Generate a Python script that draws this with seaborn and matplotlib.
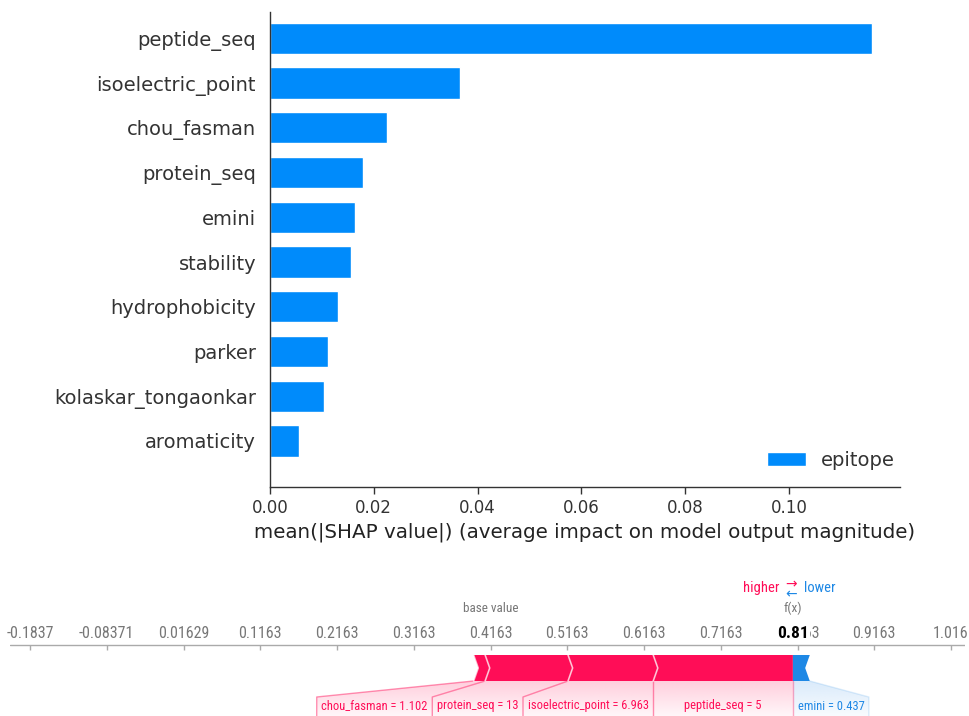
import numpy as np
import pandas as pd
import matplotlib
matplotlib.use("Agg")
import matplotlib.pyplot as plt
import seaborn as sns
from matplotlib.patches import Polygon
from matplotlib import font_manager

# --- top panel: mean |SHAP| per feature ---
features = ["peptide_seq", "isoelectric_point", "chou_fasman", "protein_seq", "emini",
            "stability", "hydrophobicity", "parker", "kolaskar_tongaonkar", "aromaticity"]
mean_abs_shap = [0.116, 0.0366, 0.0225, 0.0179, 0.0164, 0.0156, 0.0131, 0.0112, 0.0104, 0.0056]
class_name = "epitope"

# --- bottom panel: force plot of one prediction ---
base_value = 0.41629
force_features = ["chou_fasman", "protein_seq", "isoelectric_point", "peptide_seq", "emini"]
force_values = ["1.102", "13", "6.963", "5", "0.437"]
force_shap = [0.015, 0.108, 0.111, 0.182, -0.022]

POS = "#FF0D57"
POS_LIGHT = "#FFC3D5"
NEG = "#1E88E5"
NEG_LIGHT = "#D1E6FA"
BAR_BLUE = "#008bfb"

sns.set_theme(style="white")
plt.rcParams["font.family"] = ["DejaVu Sans"]


def is_regular(f):
    return f.weight in (400, "normal", "regular") and f.style == "normal"


def is_bold(f):
    return f.weight in (700, "bold") and f.style == "normal"


def pick_narrow_fonts():
    """Find a condensed sans face (regular + bold), like shap's force plot text."""
    wanted = ["Liberation Sans Narrow", "Roboto Condensed", "Open Sans Condensed",
              "Noto Sans Condensed", "DejaVu Sans Condensed"]
    fonts = font_manager.fontManager.ttflist
    reg = None
    for name in wanted:
        reg = next((f for f in fonts if f.name == name and is_regular(f)), None)
        if reg:
            break
    if reg is None:
        reg = next((f for f in fonts if f.stretch in ("condensed", "semi-condensed")
                    and is_regular(f)), None)
    if reg is None:
        return "Liberation Sans", "Liberation Sans", 0.85
    bold = next((f for f in fonts if f.name == reg.name and f.stretch == reg.stretch
                 and is_bold(f)), reg)
    return reg.fname, bold.fname, 1.0


narrow_reg, narrow_bold, nscale = pick_narrow_fonts()


def nfont(size, bold=False):
    src = narrow_bold if bold else narrow_reg
    if src.endswith((".ttf", ".otf", ".ttc")):
        fp = font_manager.FontProperties(fname=src)
    else:
        fp = font_manager.FontProperties(family=src, weight="bold" if bold else "normal")
    fp.set_size(size * nscale)
    return fp


fig = plt.figure(figsize=(9.69, 7.16), dpi=100)

# ---------------- top bar chart ----------------
ax = fig.add_axes([270 / 969, 1 - 487 / 716, 630 / 969, 475 / 716])
df = pd.DataFrame({"feature": features, "value": mean_abs_shap, "cls": class_name})
sns.barplot(data=df, x="value", y="feature", hue="cls", palette=[BAR_BLUE],
            width=0.7, dodge=False, saturation=1, ax=ax, order=features)
ax.set_xlim(0, 0.1214)
ax.set_ylim(len(features) - 1 + 1.03, -0.59)
ax.set_xticks([0.0, 0.02, 0.04, 0.06, 0.08, 0.10])
ax.set_xticklabels(["0.00", "0.02", "0.04", "0.06", "0.08", "0.10"])
ax.tick_params(axis="x", labelsize=12, colors="#333333", length=5, width=1,
               direction="out", bottom=True)
ax.tick_params(axis="y", labelsize=14, colors="#333333", length=0, pad=10)
ax.set_ylabel("")
ax.set_xlabel("mean(|SHAP value|) (average impact on model output magnitude)",
              fontsize=14.3, color="#222222", labelpad=4)
for s in ["top", "right"]:
    ax.spines[s].set_visible(False)
for s in ["left", "bottom"]:
    ax.spines[s].set_color("#333333")
    ax.spines[s].set_linewidth(1)
leg = ax.legend(loc="lower right", frameon=False, fontsize=14,
                bbox_to_anchor=(1.02, 0.0), handlelength=2.0, handleheight=0.7)
for t in leg.get_texts():
    t.set_color("#333333")

# ---------------- bottom force plot ----------------
x_left = base_value - 0.6 - 20 / 767.5
x_right = base_value + 0.6 + 14 / 767.5
ax2 = fig.add_axes([10 / 969, 0, 955 / 969, 146 / 716])
ax2.set_xlim(x_left, x_right)
ax2.set_ylim(0, 146)
ax2.axis("off")

axis_y = 71
bar_top, bar_bot = 61, 35
bar_mid = (bar_top + bar_bot) / 2
text_top, text_y = 19, 10
d = 0.006
pad = 0.006
label_size = 9

ticks = [base_value + 0.1 * k for k in range(-6, 7)]
ax2.axhline(axis_y, color="#aaaaaa", lw=1)
ax2.vlines(ticks, axis_y - 5, axis_y, color="#aaaaaa", lw=1)
for tv in ticks:
    ax2.text(tv, axis_y + 12, format(tv, ".4g"), ha="center", va="center",
             fontproperties=nfont(11.5), color="#777777")

fx = base_value + sum(force_shap)

ax2.text(base_value, 108, "base value", ha="center", va="center",
         fontproperties=nfont(9.5), color="#777777")
ax2.text(fx, 108, "f(x)", ha="center", va="center",
         fontproperties=nfont(9.5), color="#777777")
ax2.text(fx, axis_y + 12, f"{fx:.2f}", ha="center", va="center",
         fontproperties=nfont(12.5, bold=True), color="black",
         bbox=dict(boxstyle="square,pad=0.05", fc="white", ec="none"))
ax2.text(fx - 0.017, 128, "higher", ha="right", va="center",
         fontproperties=nfont(10.5), color=POS)
ax2.text(fx - 0.003, 133, r"$\rightarrow$", ha="center", va="center", fontsize=10, color=POS)
ax2.text(fx - 0.003, 123, r"$\leftarrow$", ha="center", va="center", fontsize=10, color=NEG)
ax2.text(fx + 0.014, 128, "lower", ha="left", va="center",
         fontproperties=nfont(10.5), color=NEG)

fig.canvas.draw()
renderer = fig.canvas.get_renderer()
px_per_unit = (ax2.transData.transform((1, 0)) - ax2.transData.transform((0, 0)))[0]


def text_width(s):
    t = ax2.text(0, -100, s, fontproperties=nfont(label_size))
    w = t.get_window_extent(renderer).width / px_per_unit
    t.remove()
    return w


def shade(verts, color, top_alpha, bot_alpha):
    poly = Polygon(verts, closed=True, fc="none", ec="none")
    ax2.add_patch(poly)
    xs = [v[0] for v in verts]
    rgba = np.zeros((64, 1, 4))
    rgba[..., :3] = matplotlib.colors.to_rgb(color)
    rgba[:, 0, 3] = np.linspace(top_alpha, bot_alpha, 64)
    im = ax2.imshow(rgba, extent=[min(xs), max(xs), 0, bar_bot], origin="upper",
                    aspect="auto", zorder=1)
    im.set_clip_path(poly)


order = sorted(range(len(force_shap)), key=lambda i: -force_shap[i])
pos_idx = [i for i in order if force_shap[i] > 0]
neg_idx = [i for i in sorted(range(len(force_shap)), key=lambda i: force_shap[i])
           if force_shap[i] < 0]

# positive contributions, walking left from f(x)
right = fx
label_r = fx
boundaries = []
for k, i in enumerate(pos_idx):
    b = right
    a = b - force_shap[i]
    tip = b + d if k > 0 else b
    ax2.add_patch(Polygon([(a, bar_top), (b, bar_top), (tip, bar_mid), (b, bar_bot),
                           (a, bar_bot), (a + d, bar_mid)], closed=True,
                          fc=POS, ec="none", zorder=3))
    if k > 0:
        boundaries.append(b)
    label = f"{force_features[i]} = {force_values[i]}"
    tw = text_width(label)
    L = min(a, label_r - tw - 2 * pad)
    R = label_r
    shade([(a, bar_bot), (b, bar_bot), (R, text_top), (R, 0), (L, 0), (L, text_top)],
          POS_LIGHT, 0.8, 0.15)
    ax2.plot([a, L, L], [bar_bot, text_top, 0], color=POS, alpha=0.45, lw=1, zorder=2)
    ax2.text((L + R) / 2, text_y, label, ha="center", va="center",
             fontproperties=nfont(label_size), color=POS, zorder=4)
    label_r = L
    right = a
boundaries.append(right)
for bx in boundaries:
    ax2.plot([bx, bx + d, bx], [bar_top, bar_mid, bar_bot], color="white",
             alpha=0.7, lw=1.2, zorder=4)
ax2.plot([fx, fx], [bar_bot, 0], color=POS, alpha=0.35, lw=1, zorder=2)

# negative contributions, walking right from f(x)
left = fx
label_l = fx
for i in neg_idx:
    a = left
    b = a - force_shap[i]
    ax2.add_patch(Polygon([(a, bar_top), (b, bar_top), (b - d, bar_mid), (b, bar_bot),
                           (a, bar_bot)], closed=True, fc=NEG, ec="none", zorder=3))
    label = f"{force_features[i]} = {force_values[i]}"
    tw = text_width(label)
    L = label_l
    R = max(b, label_l + tw + 2 * pad)
    shade([(a, bar_bot), (b, bar_bot), (R, text_top), (R, 0), (L, 0), (L, text_top)],
          NEG_LIGHT, 0.8, 0.15)
    ax2.plot([b, R, R], [bar_bot, text_top, 0], color=NEG, alpha=0.15, lw=1, zorder=2)
    ax2.text((L + R) / 2, text_y, label, ha="center", va="center",
             fontproperties=nfont(label_size), color=NEG, zorder=4)
    label_l = R
    left = b

ax2.set_xlim(x_left, x_right)
ax2.set_ylim(0, 146)

fig.savefig("out.png", dpi=100)
